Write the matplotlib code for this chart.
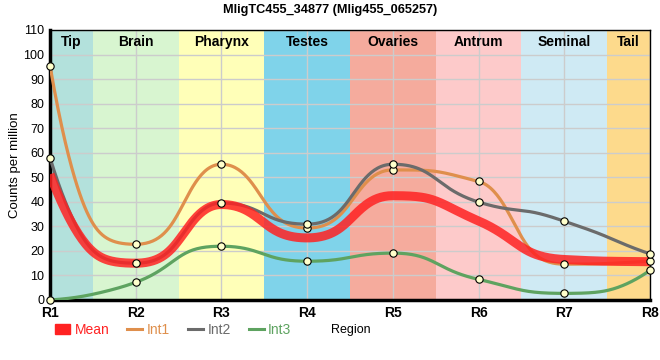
import numpy as np
import matplotlib.pyplot as plt
from matplotlib.lines import Line2D
from matplotlib.patches import Patch

regions = ["R1", "R2", "R3", "R4", "R5", "R6", "R7", "R8"]
tissues = ["Tip", "Brain", "Pharynx", "Testes", "Ovaries", "Antrum", "Seminal", "Tail"]
tissue_colors = ["#b3e1dc", "#d8f5d0", "#ffffb8", "#7fd3ea", "#f5ab9d",
                 "#fdcaca", "#cfeaf4", "#fdda8c"]

int1 = [95.5, 22.7, 55.3, 29.3, 53.0, 48.3, 14.6, 15.8]
int2 = [58.0, 15.0, 39.5, 30.9, 55.3, 39.9, 32.1, 18.8]
int3 = [0.0, 7.2, 21.9, 15.8, 19.1, 8.4, 2.7, 12.1]
mean = [51.2, 15.0, 38.9, 25.3, 42.5, 32.2, 16.5, 15.6]

series_colors = {"Mean": "#ff2222", "Int1": "#df8f4c", "Int2": "#6b6b6b", "Int3": "#5ea360"}


def smooth(x, y, a=0.5, n=60):
    # monotone tangents, bezier handles at a*h, computed on log(1+y)
    x = np.asarray(x, float)
    y = np.log1p(np.asarray(y, float))
    h = np.diff(x)
    s = np.diff(y) / h
    t = np.zeros_like(y)
    for i in range(1, len(y) - 1):
        p = (s[i - 1] * h[i] + s[i] * h[i - 1]) / (h[i - 1] + h[i])
        t[i] = (np.sign(s[i - 1]) + np.sign(s[i])) * min(abs(s[i - 1]), abs(s[i]), 0.5 * abs(p))
    t[0] = (3 * s[0] - t[1]) / 2
    t[-1] = (3 * s[-1] - t[-2]) / 2
    xs, ys = [], []
    u = np.linspace(0, 1, n)
    b0, b1, b2, b3 = (1 - u) ** 3, 3 * u * (1 - u) ** 2, 3 * u**2 * (1 - u), u**3
    for i in range(len(y) - 1):
        d = a * h[i]
        px = [x[i], x[i] + d, x[i + 1] - d, x[i + 1]]
        py = [y[i], y[i] + d * t[i], y[i + 1] - d * t[i + 1], y[i + 1]]
        xs.append(b0 * px[0] + b1 * px[1] + b2 * px[2] + b3 * px[3])
        ys.append(b0 * py[0] + b1 * py[1] + b2 * py[2] + b3 * py[3])
    return np.concatenate(xs), np.expm1(np.concatenate(ys))


plt.rcParams["font.family"] = ["Liberation Sans", "DejaVu Sans"]
fig = plt.figure(figsize=(6.6, 3.6), dpi=100)
ax = fig.add_axes([50 / 660, 60 / 360, 600 / 660, 270 / 360])

x = np.arange(len(regions))
for i, (name, col) in enumerate(zip(tissues, tissue_colors)):
    lo = max(i - 0.5, 0)
    hi = min(i + 0.5, len(regions) - 1)
    ax.axvspan(lo, hi, color=col, lw=0, zorder=0)
    ax.text((lo + hi) / 2, 105, name, ha="center", va="center",
            fontsize=10, fontweight="bold", zorder=5)

ax.grid(True, color="#cccccc", lw=1, zorder=1)
ax.set_axisbelow(True)

for vals, name in [(int1, "Int1"), (int2, "Int2"), (int3, "Int3")]:
    cx, cy = smooth(x, vals)
    ax.plot(cx, cy, color=series_colors[name], lw=2.3, zorder=3, solid_capstyle="round")
mx, my = smooth(x, mean)
ax.plot(mx, my, color=series_colors["Mean"], lw=6.5, alpha=0.85, zorder=4,
        solid_capstyle="butt")
for vals in [int1, int2, int3]:
    ax.scatter(x, vals, s=28, facecolor="#ffffcc", edgecolor="black", lw=0.8,
               zorder=6, clip_on=False)

ax.set_xlim(0, len(regions) - 1)
ax.set_ylim(0, 110)
ax.set_xticks(x)
ax.set_xticklabels(regions, fontweight="bold", fontsize=10)
ax.set_yticks(np.arange(0, 111, 10))
ax.tick_params(axis="y", labelsize=9, length=0, pad=4)
ax.tick_params(axis="x", length=0, pad=4)
for side in ["top", "right"]:
    ax.spines[side].set_linewidth(1)
for side in ["left", "bottom"]:
    ax.spines[side].set_linewidth(2.5)
ax.set_ylabel("Counts per million", fontsize=9.5, labelpad=2)
fig.text(0.5, 1 - 10 / 360, "MligTC455_34877 (Mlig455_065257)", ha="center", va="center",
         fontsize=9.2, fontweight="bold")

handles = [Patch(color=series_colors["Mean"]),
           Line2D([], [], color=series_colors["Int1"], lw=2.2),
           Line2D([], [], color=series_colors["Int2"], lw=2.2),
           Line2D([], [], color=series_colors["Int3"], lw=2.2)]
leg = fig.legend(handles, ["Mean", "Int1", "Int2", "Int3"], ncol=4, loc="center left",
                 bbox_to_anchor=(48 / 660, 1 - 330 / 360), frameon=False, fontsize=10,
                 handlelength=1.1, handletextpad=0.3, columnspacing=1.3, borderpad=0)
for txt, name in zip(leg.get_texts(), ["Mean", "Int1", "Int2", "Int3"]):
    txt.set_color(series_colors[name])
fig.text(331 / 660, 1 - 330 / 360, "Region", ha="left", va="center", fontsize=9)

fig.savefig("out.png", dpi=100)
